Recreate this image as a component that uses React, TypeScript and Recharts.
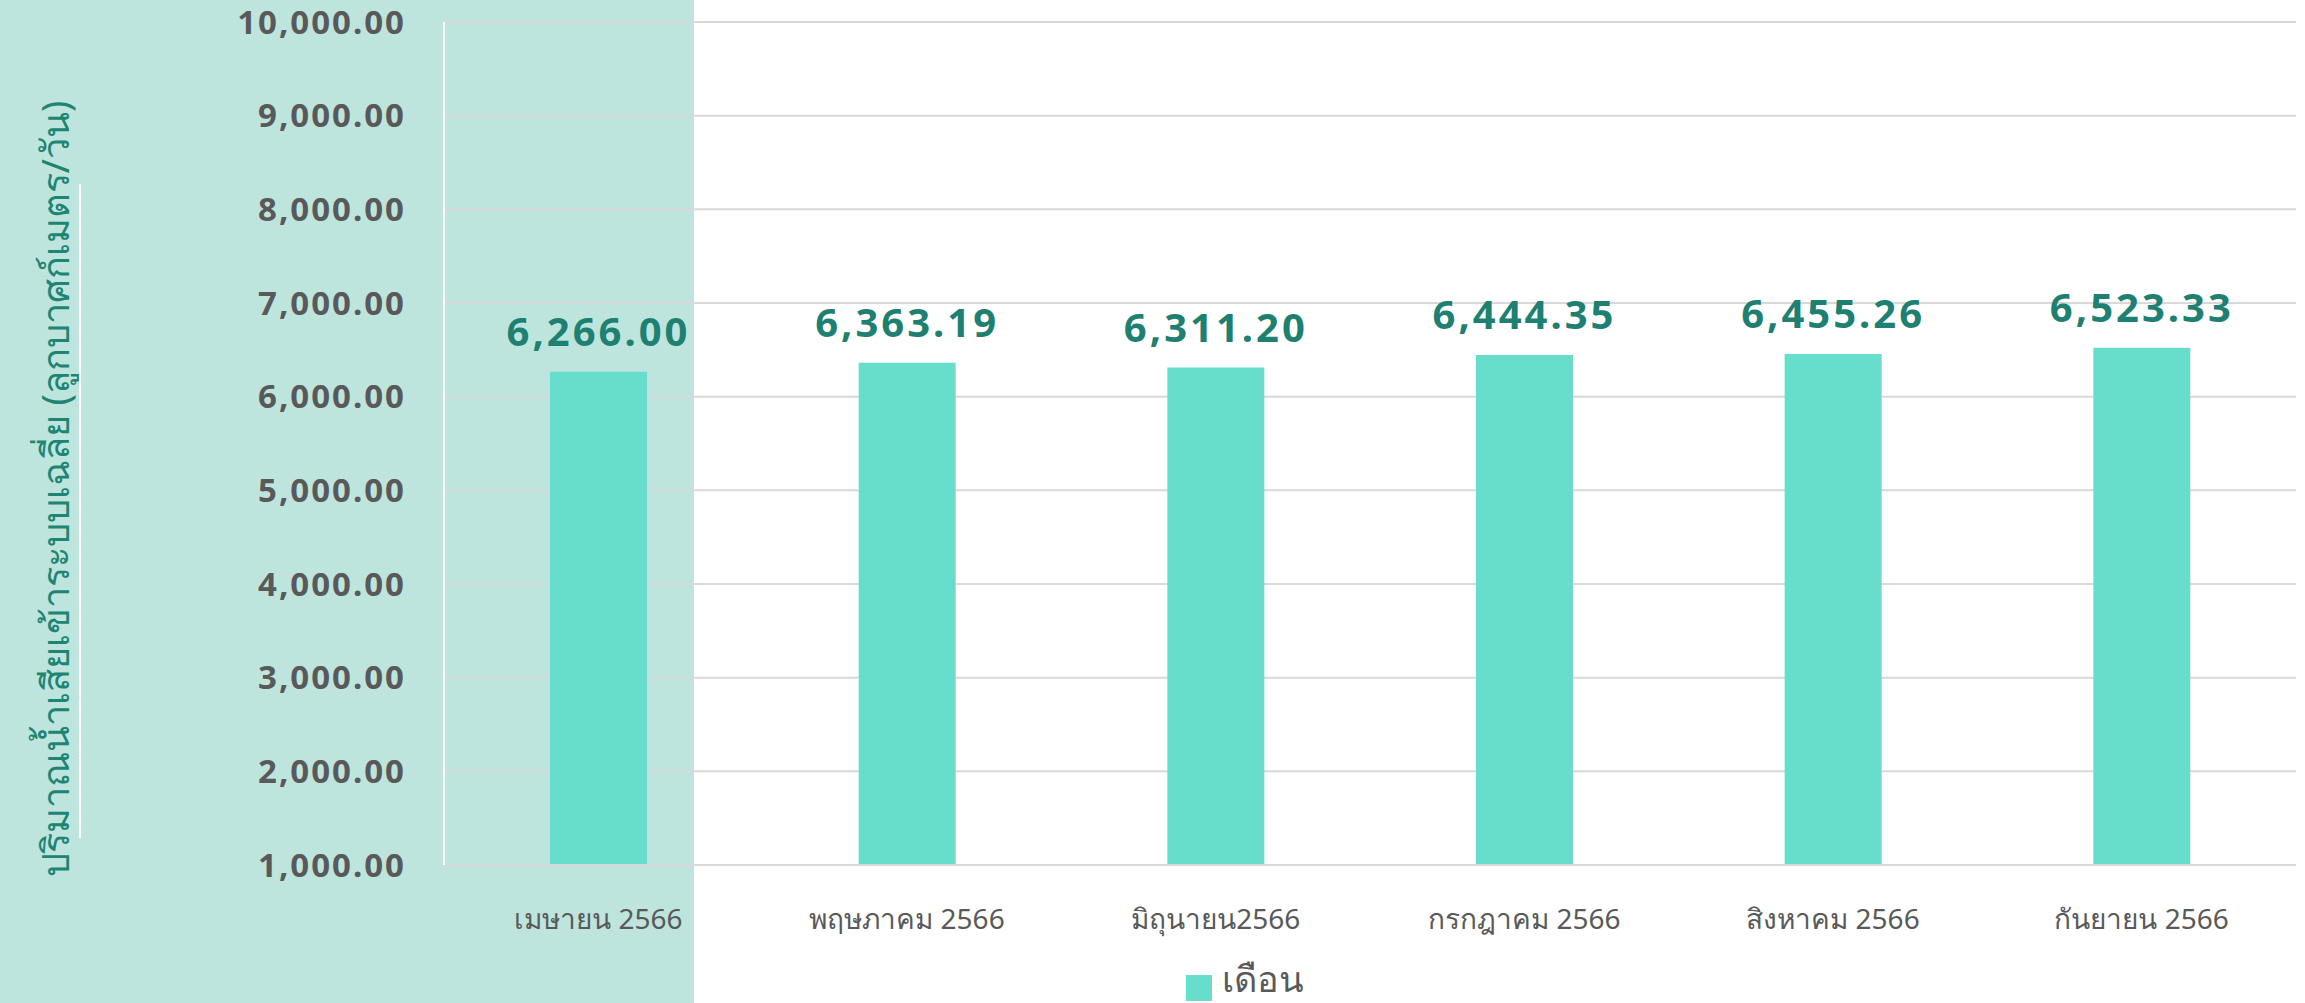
import {
  BarChart,
  Bar,
  XAxis,
  YAxis,
  CartesianGrid,
  Legend,
  LabelList,
} from "recharts";

const months = [
  "เมษายน 2566",
  "พฤษภาคม 2566",
  "มิถุนายน2566",
  "กรกฎาคม 2566",
  "สิงหาคม 2566",
  "กันยายน 2566",
];
const flow = [6266.0, 6363.19, 6311.2, 6444.35, 6455.26, 6523.33];
const yTicks = [1000, 2000, 3000, 4000, 5000, 6000, 7000, 8000, 9000, 10000];

const seriesName = "เดือน";
const axisTitle = "ปริมาณน้ำเสียเข้าระบบเฉลี่ย (ลูกบาศก์เมตร/วัน)";

const data = months.map((m, i) => ({ month: m, value: flow[i] }));

// 2 decimals with thousands separator
const fmt = (v: number) =>
  v.toLocaleString("en-US", { minimumFractionDigits: 2, maximumFractionDigits: 2 });

const YTitle = () => (
  <text
    x={54}
    y={489}
    transform="rotate(-90, 54, 489)"
    textAnchor="middle"
    dominantBaseline="central"
    fill="#1E8473"
    fontSize={38}
  >
    {axisTitle}
  </text>
);

const App = () => {
  return (
    <div
      style={{
        position: "absolute",
        left: 0,
        top: 0,
        width: 2305,
        height: 1003,
        background: "#fff",
        fontFamily: "'Noto Sans', sans-serif",
      }}
    >
      {/* teal side panel */}
      <div
        style={{
          position: "absolute",
          left: 0,
          top: 0,
          width: 694,
          height: 1003,
          background: "#BDE5DE",
        }}
      />
      <div
        style={{
          position: "absolute",
          left: 79,
          top: 184,
          width: 2,
          height: 654,
          background: "#fff",
        }}
      />
      <div style={{ position: "absolute", left: 0, top: 0 }}>
        <BarChart
          width={2305}
          height={1003}
          data={data}
          margin={{ top: 22, right: 9, left: 0, bottom: 51 }}
          barSize={97}
        >
          <CartesianGrid vertical={false} stroke="#D9D9D9" strokeWidth={2} />
          <XAxis
            dataKey="month"
            axisLine={{ stroke: "#D9D9D9", strokeWidth: 2 }}
            tickLine={false}
            tickMargin={38}
            tick={{ fill: "#595959", fontSize: 28 }}
            interval={0}
          />
          <YAxis
            width={444}
            domain={[1000, 10000]}
            ticks={yTicks}
            tickFormatter={fmt}
            axisLine={{ stroke: "#fff", strokeWidth: 2 }}
            tickLine={false}
            tickMargin={32}
            tick={{ fill: "#595959", fontSize: 33, fontWeight: 700, letterSpacing: 2 }}
            label={<YTitle />}
          />
          <Legend
            verticalAlign="bottom"
            align="left"
            iconType="square"
            iconSize={26}
            wrapperStyle={{ left: 1186, bottom: -5, width: "auto" }}
            formatter={(v) => (
              <span style={{ color: "#595959", fontSize: 36, marginLeft: 6 }}>{v}</span>
            )}
          />
          <Bar
            dataKey="value"
            name={seriesName}
            fill="#67DDCC"
            isAnimationActive={false}
          >
            <LabelList
              dataKey="value"
              position="top"
              offset={26}
              formatter={(v: number) => fmt(v)}
              fill="#1E8070"
              fontSize={40}
              fontWeight={700}
              letterSpacing={3}
            />
          </Bar>
        </BarChart>
      </div>
    </div>
  );
};

export default App;
